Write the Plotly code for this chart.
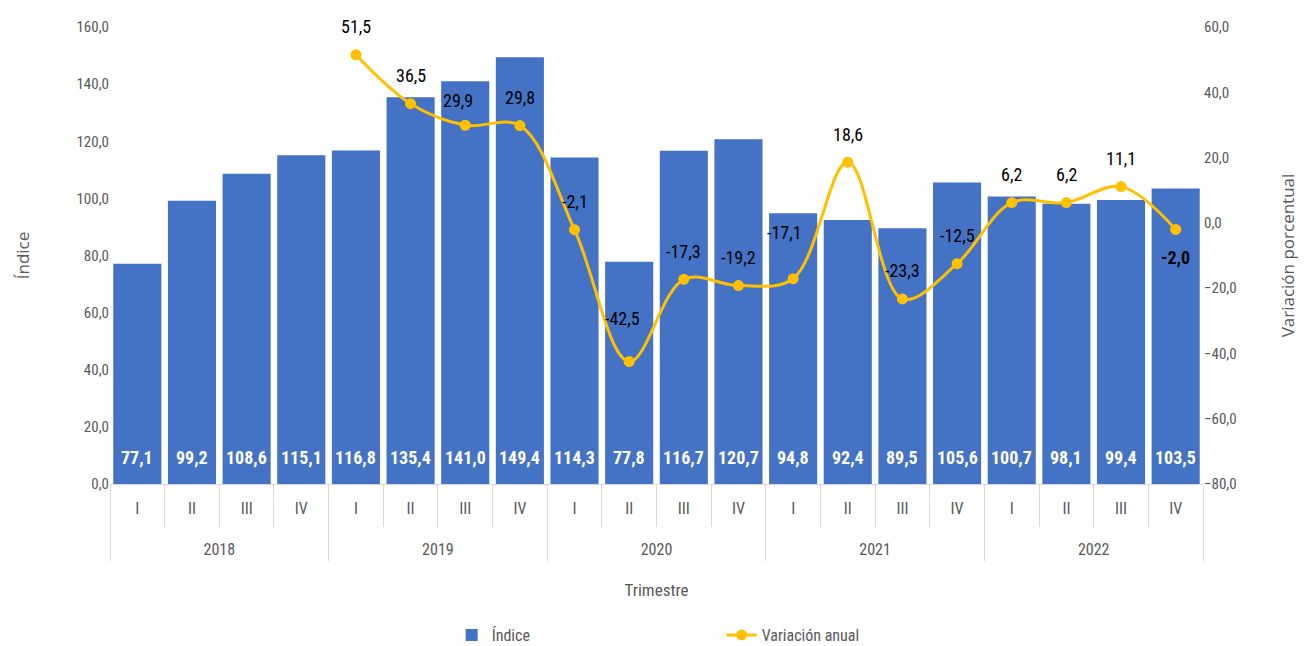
import plotly.graph_objects as go

years = ["2018", "2019", "2020", "2021", "2022"]
quarters = ["I", "II", "III", "IV"]
categories = [f"{y} {q}" for y in years for q in quarters]
quarter_labels = quarters * len(years)
indice = [77.1, 99.2, 108.6, 115.1, 116.8, 135.4, 141.0, 149.4, 114.3, 77.8,
          116.7, 120.7, 94.8, 92.4, 89.5, 105.6, 100.7, 98.1, 99.4, 103.5]
variacion = [None, None, None, None, 51.5, 36.5, 29.9, 29.8, -2.1, -42.5,
             -17.3, -19.2, -17.1, 18.6, -23.3, -12.5, 6.2, 6.2, 11.1, -2.0]

# label placement tweaks (pixel offsets) for the "Variación anual" labels
label_shift_default = (0, 28)
label_shift = {"2019 III": (-7, 25), "2020 II": (-7, 43), "2021 I": (-9, 46),
               "2022 IV": (0, -28)}

def fmt(v):
    return f"{v:.1f}".replace(".", ",")

FONT = "Liberation Sans Narrow, Roboto Condensed, Open Sans, sans-serif"
TITLE_FONT = "Open Sans, Noto Sans, sans-serif"
GRAY = "#595959"
LINE_GRAY = "#D9D9D9"

n = len(categories)
group_centers = [i * 4 + 1.5 for i in range(len(years))]
group_bounds = [i * 4 - 0.5 for i in range(len(years) + 1)]

fig = go.Figure()
fig.add_trace(go.Bar(
    x=categories, y=indice, name="Índice",
    marker=dict(color="#4472C4", line=dict(width=0)),
    xaxis="x", yaxis="y",
))
fig.add_trace(go.Scatter(
    x=categories, y=variacion, name="Variación anual",
    mode="lines+markers",
    line=dict(color="#FFC000", width=3, shape="spline"),
    marker=dict(color="#FFC000", size=11),
    xaxis="x", yaxis="y2", connectgaps=False,
))
# invisible helper so the year axis (x2) is drawn
fig.add_trace(go.Scatter(
    x=group_centers, y=[None] * len(group_centers), mode="markers",
    marker=dict(opacity=0), showlegend=False, hoverinfo="skip",
    xaxis="x2", yaxis="y",
))

annotations = []
for c, v in zip(categories, indice):
    annotations.append(dict(
        x=c, y=0, xref="x", yref="y", text="<b>" + fmt(v) + "</b>",
        showarrow=False, yshift=27,
        font=dict(color="white", size=18, family=FONT),
    ))
for i, (c, v) in enumerate(zip(categories, variacion)):
    if v is None:
        continue
    txt = fmt(v)
    if i == len(variacion) - 1:
        txt = "<b>" + txt + "</b>"
    dx, dy = label_shift.get(c, label_shift_default)
    annotations.append(dict(
        x=c, y=v, xref="x", yref="y2", text=txt, showarrow=False,
        xshift=dx, yshift=dy, font=dict(color="black", size=18, family=FONT),
    ))

W, H = 1301, 638
fig.update_layout(
    width=W, height=H,
    paper_bgcolor="white", plot_bgcolor="white",
    margin=dict(l=102, r=106, t=19, b=162),
    bargap=0.12,
    separators=",.",
    font=dict(family=FONT, color=GRAY, size=15),
    showlegend=True,
    annotations=annotations,
    legend=dict(orientation="h", x=0.5596, xanchor="center",
                yref="container", y=0.0172, yanchor="middle",
                font=dict(size=16, color=GRAY), entrywidth=225, itemwidth=30),
    xaxis=dict(
        type="category", automargin=False, range=[-0.5, n - 0.5],
        tickmode="array", tickvals=categories, ticktext=quarter_labels,
        showline=True, linecolor=LINE_GRAY, linewidth=1,
        ticks="outside", tickson="boundaries", ticklen=42, tickcolor=LINE_GRAY,
        ticklabelstandoff=10,
        tickfont=dict(size=16, color=GRAY),
        showgrid=False,
    ),
    xaxis2=dict(
        overlaying="x", anchor="y", side="bottom", automargin=False,
        range=[-0.5, n - 0.5], showgrid=False, zeroline=False, showline=False,
        tickmode="array", tickvals=group_centers, ticktext=years,
        ticks="", ticklabelstandoff=54,
        tickfont=dict(size=16, color=GRAY),
        minor=dict(tickmode="array", tickvals=group_bounds, ticks="outside",
                   ticklen=76, tickcolor=LINE_GRAY, showgrid=False),
        title=dict(text="Trimestre", font=dict(size=17, color=GRAY), standoff=26),
    ),
    yaxis=dict(
        range=[0, 160], dtick=20, tickformat=".1f", automargin=False,
        showgrid=False, zeroline=False, showline=False,
        tickfont=dict(size=15, color=GRAY),
        title=dict(text="Índice", font=dict(size=17, color=GRAY, family=TITLE_FONT),
                   standoff=42),
    ),
    yaxis2=dict(
        range=[-80, 60], dtick=20, tickformat=".1f", automargin=False,
        overlaying="y", side="right",
        showgrid=False, zeroline=False, showline=False,
        tickfont=dict(size=15, color=GRAY),
        title=dict(text="Variación porcentual",
                   font=dict(size=17, color=GRAY, family=TITLE_FONT), standoff=46),
    ),
)

fig.write_html("out.html")
